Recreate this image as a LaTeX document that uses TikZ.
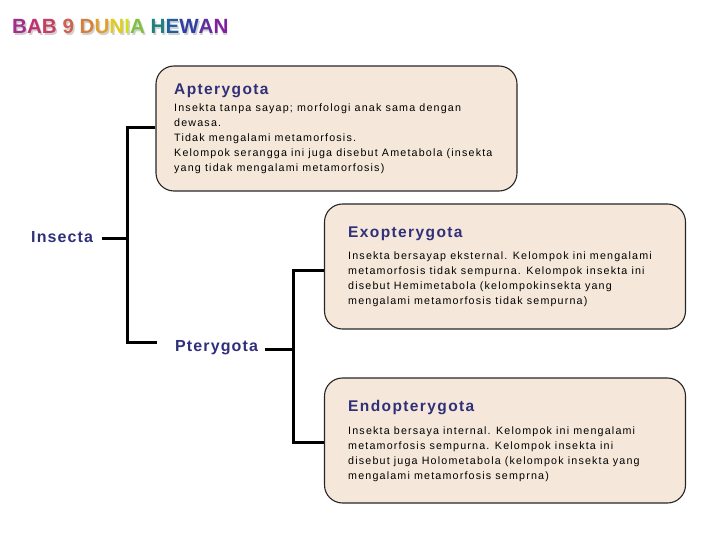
\documentclass[tikz,border=0pt]{standalone}
\usepackage{fontspec}
\setmainfont{Liberation Sans}
\newfontfamily\spaced[LetterSpace=9]{Liberation Sans}
\newfontfamily\spacedlab[LetterSpace=7]{Liberation Sans}
\newfontfamily\spacedbody[LetterSpace=11]{Liberation Sans}
\newfontfamily\titlefont{Liberation Sans}
\definecolor{boxfill}{RGB}{245,232,218}
\definecolor{navy}{RGB}{48,48,122}
\definecolor{c1}{RGB}{160,48,138}
\definecolor{c2}{RGB}{192,48,112}
\definecolor{c3}{RGB}{196,64,96}
\definecolor{c4}{RGB}{208,96,80}
\definecolor{c5}{RGB}{210,128,64}
\definecolor{c6}{RGB}{224,160,48}
\definecolor{c7}{RGB}{224,204,32}
\definecolor{c8}{RGB}{208,224,32}
\definecolor{c9}{RGB}{128,192,64}
\definecolor{c10}{RGB}{32,128,128}
\definecolor{c11}{RGB}{32,96,160}
\definecolor{c12}{RGB}{48,64,160}
\definecolor{c13}{RGB}{96,48,160}
\definecolor{c14}{RGB}{128,32,160}
\tikzset{
  box/.style={draw=black!85, line width=1.1pt, fill=boxfill, rounded corners=18pt,
    minimum width=361pt, minimum height=125pt, inner sep=0pt},
  head/.style={font=\spaced\fontsize{15.5}{18}\selectfont\bfseries, text=navy, inner sep=0pt},
  label/.style={font=\spacedlab\fontsize{16}{18}\selectfont\bfseries, text=navy, inner sep=0pt},
  body/.style={font=\spacedbody\fontsize{10.7}{15}\selectfont, align=left, inner sep=0pt, text=black},
  conn/.style={line width=3pt, black}
}
\begin{document}
\begin{tikzpicture}[x=1pt,y=-1pt]
\useasboundingbox (0,0) rectangle (720,540);
% title
\node[inner sep=0pt, anchor=base west, font=\titlefont\fontsize{20.6}{22}\selectfont\bfseries, text=black!18] (tshadow) at (13.5,35.5)
  {BAB 9 DUNIA HEWAN};
\node[inner sep=0pt, anchor=base west, font=\titlefont\fontsize{20.6}{22}\selectfont\bfseries] (title) at (12,34)
  {\textcolor{c1}{B}\textcolor{c2}{A}\textcolor{c3}{B} \textcolor{c4}{9} \textcolor{c5}{D}\textcolor{c6}{U}\textcolor{c7}{N}\textcolor{c8}{I}\textcolor{c9}{A} \textcolor{c10}{H}\textcolor{c11}{E}\textcolor{c12}{W}\textcolor{c13}{A}\textcolor{c14}{N}};
% boxes
\node[box] (apt) at (336.5,128.5) {};
\node[box] (exo) at (505,266.5) {};
\node[box] (endo) at (505,440.5) {};
% box texts
\node[head, anchor=base west] (aptT) at (174,95) {Apterygota};
\node[body, anchor=north west] (aptB) at (174,103.5) {Insekta tanpa sayap; morfologi anak sama dengan\\dewasa.\\Tidak mengalami metamorfosis.\\Kelompok serangga ini juga disebut Ametabola (insekta\\yang tidak mengalami metamorfosis)};
\node[head, anchor=base west] (exoT) at (348,237.5) {Exopterygota};
\node[body, anchor=north west] (exoB) at (348,251.5) {Insekta bersayap eksternal. Kelompok ini mengalami\\metamorfosis tidak sempurna. Kelompok insekta ini\\disebut Hemimetabola (kelompokinsekta yang\\mengalami metamorfosis tidak sempurna)};
\node[head, anchor=base west] (endoT) at (348,411) {Endopterygota};
\node[body, anchor=north west] (endoB) at (348,426.5) {Insekta bersaya internal. Kelompok ini mengalami\\metamorfosis sempurna. Kelompok insekta ini\\disebut juga Holometabola (kelompok insekta yang\\mengalami metamorfosis semprna)};
% tree labels
\node[label, anchor=base west] (ins) at (31,243) {Insecta};
\node[label, anchor=base west] (pte) at (175,351) {Pterygota};
% connectors
\coordinate (j1) at (127,238);
\coordinate (j2) at (293,349);
\draw[conn] (ins.east |- j1) ++(8.5pt,0) -- (j1);
\draw[conn] (apt.west |- 0,127.5) -| (j1) |- ([xshift=-18pt]pte.west |- 0,342);
\draw[conn] (pte.east |- j2) ++(6.5pt,0) -- (j2);
\draw[conn] ([yshift=-3.5pt]exo.west) -| (j2) |- ([yshift=-1.5pt]endo.west);
\end{tikzpicture}
\end{document}
